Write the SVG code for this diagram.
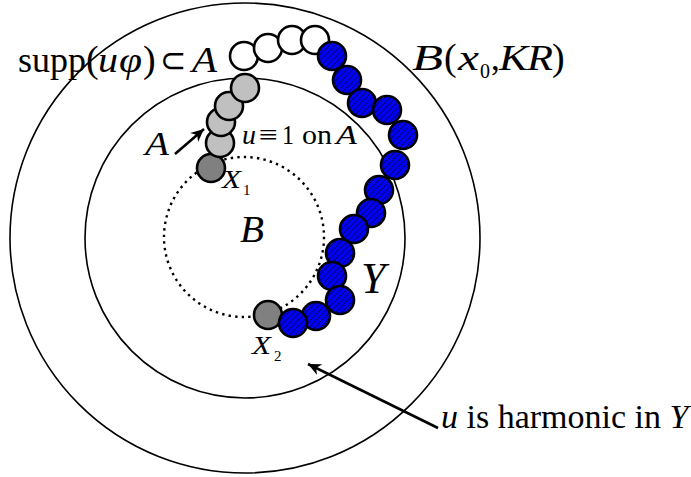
<svg xmlns="http://www.w3.org/2000/svg" width="691" height="477" viewBox="0 0 691 477">
<defs>
<pattern id="hatch" patternUnits="userSpaceOnUse" width="4.2" height="4.2" patternTransform="rotate(45)">
<rect width="4.2" height="4.2" fill="#0000f8"/>
<line x1="0" y1="0" x2="0" y2="4.2" stroke="#000" stroke-width="1"/>
</pattern>
<marker id="ah" viewBox="-14 -7 16 14" refX="0" refY="0" markerWidth="16" markerHeight="14" markerUnits="userSpaceOnUse" orient="auto">
<path d="M0,0 L-13,-6 L-9,0 L-13,6 Z" fill="#000"/>
</marker>
</defs>
<style>
.ring{fill:none;stroke:#000;stroke-width:1.6}
.dot{fill:none;stroke:#000;stroke-width:2.4;stroke-dasharray:2.4 4.2}
.c{stroke:#000;stroke-width:2.6}
.w{fill:#fff}
.lg{fill:#c0c0c0}
.dg{fill:#808080}
.b{fill:url(#hatch)}
.t{font-family:"Liberation Serif","Times New Roman",serif;fill:#000}
.i{font-style:italic}
.arr{stroke:#000;stroke-width:2.6;fill:none}
</style>
<rect width="691" height="477" fill="#fff"/>
<g id="outer-ball"><circle class="ring" cx="245" cy="238" r="235"/></g>
<g id="inner-ball"><circle class="ring" cx="245" cy="238" r="160"/></g>
<g id="ball-B"><circle class="dot" cx="244" cy="237" r="80"/></g>
<g id="X1"><circle class="c dg" cx="211" cy="168" r="14"/></g>
<g id="X2"><circle class="c dg" cx="268" cy="315" r="14"/></g>
<g id="set-A">
<circle class="c lg" cx="220" cy="143" r="14"/>
<circle class="c lg" cx="221" cy="122" r="14"/>
<circle class="c lg" cx="229" cy="106" r="14"/>
<circle class="c lg" cx="245" cy="88" r="14"/>
</g>
<g id="white-chain">
<circle class="c w" cx="244" cy="56" r="14"/>
<circle class="c w" cx="268" cy="48" r="14"/>
<circle class="c w" cx="292" cy="40" r="14"/>
<circle class="c w" cx="315" cy="40" r="14"/>
</g>
<g id="Y-chain">
<circle class="c b" cx="332" cy="56" r="14"/>
<circle class="c b" cx="347" cy="80" r="14"/>
<circle class="c b" cx="362" cy="103" r="14"/>
<circle class="c b" cx="387" cy="110" r="14"/>
<circle class="c b" cx="403" cy="135" r="14"/>
<circle class="c b" cx="395" cy="165" r="14"/>
<circle class="c b" cx="379" cy="190" r="14"/>
<circle class="c b" cx="371" cy="213" r="14"/>
<circle class="c b" cx="354" cy="229" r="14"/>
<circle class="c b" cx="340" cy="253" r="14"/>
<circle class="c b" cx="332" cy="276" r="14"/>
<circle class="c b" cx="340" cy="300" r="14"/>
<circle class="c b" cx="316" cy="316" r="14"/>
<circle class="c b" cx="293" cy="323" r="14"/>
</g>
<g id="connectors">
<line class="arr" x1="175" y1="154" x2="204" y2="129" marker-end="url(#ah)"/>
<line class="arr" x1="438" y1="428" x2="308" y2="364" marker-end="url(#ah)"/>
</g>
<g id="label-supp">
<text class="t" x="18" y="72" font-size="35" textLength="68" lengthAdjust="spacingAndGlyphs">supp</text>
<text class="t" x="86" y="72" font-size="38">(</text>
<text class="t i" x="98" y="72" font-size="35" textLength="20" lengthAdjust="spacingAndGlyphs">u</text>
<text class="t i" x="119" y="72" font-size="35" textLength="23" lengthAdjust="spacingAndGlyphs">φ</text>
<text class="t" x="143" y="72" font-size="38">)</text>
<text class="t" x="160" y="72" font-size="35" textLength="26" lengthAdjust="spacingAndGlyphs">⊂</text>
<text class="t i" x="192" y="72" font-size="35" textLength="25" lengthAdjust="spacingAndGlyphs">A</text>
</g>
<g id="label-ball">
<text class="t i" x="412" y="70" font-size="35" textLength="31" lengthAdjust="spacingAndGlyphs">B</text>
<text class="t" x="444" y="70" font-size="38">(</text>
<text class="t i" x="458" y="70" font-size="35" textLength="21" lengthAdjust="spacingAndGlyphs">x</text>
<text class="t" x="480" y="78" font-size="20">0</text>
<text class="t" x="491" y="70" font-size="35">,</text>
<text class="t i" x="499" y="70" font-size="35" textLength="29" lengthAdjust="spacingAndGlyphs">K</text>
<text class="t i" x="527" y="70" font-size="35" textLength="26" lengthAdjust="spacingAndGlyphs">R</text>
<text class="t" x="552" y="70" font-size="38">)</text>
</g>
<g id="label-A">
<text class="t i" x="145" y="155" font-size="34" textLength="24" lengthAdjust="spacingAndGlyphs">A</text>
</g>
<g id="label-u1">
<text class="t i" x="242" y="144" font-size="28" textLength="14" lengthAdjust="spacingAndGlyphs">u</text>
<text class="t" x="259" y="144" font-size="28" textLength="19" lengthAdjust="spacingAndGlyphs">≡</text>
<text class="t" x="282" y="144" font-size="28" textLength="12" lengthAdjust="spacingAndGlyphs">1</text>
<text class="t" x="302" y="144" font-size="28" textLength="30" lengthAdjust="spacingAndGlyphs">on</text>
<text class="t i" x="336" y="144" font-size="28" textLength="21" lengthAdjust="spacingAndGlyphs">A</text>
</g>
<g id="label-X1">
<text class="t i" x="222" y="188" font-size="25" textLength="19" lengthAdjust="spacingAndGlyphs">X</text>
<text class="t" x="243" y="195" font-size="15">1</text>
</g>
<g id="label-X2">
<text class="t i" x="252" y="354" font-size="25" textLength="19" lengthAdjust="spacingAndGlyphs">X</text>
<text class="t" x="274" y="361" font-size="15">2</text>
</g>
<g id="label-B">
<text class="t i" x="240" y="242" font-size="38" textLength="24" lengthAdjust="spacingAndGlyphs">B</text>
</g>
<g id="label-Y">
<text class="t i" x="361" y="293" font-size="44">Y</text>
</g>
<g id="label-harmonic">
<text class="t" x="441" y="428" font-size="34"><tspan class="i">u</tspan> is harmonic in <tspan class="i">Y</tspan></text>
</g>
</svg>
